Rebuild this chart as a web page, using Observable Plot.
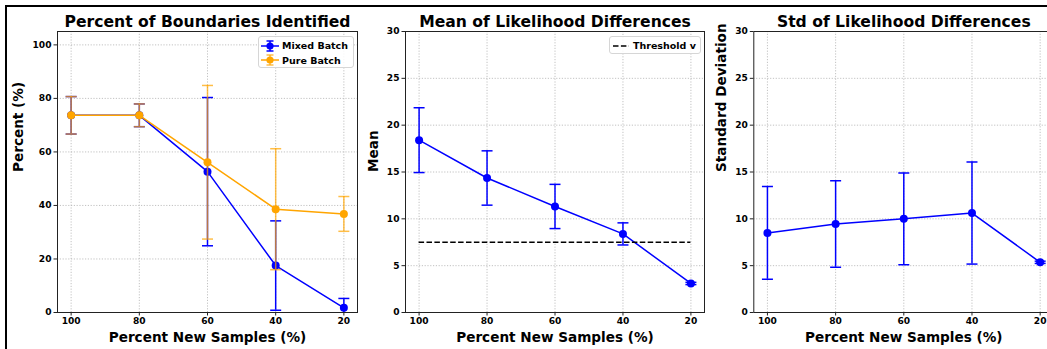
<!DOCTYPE html>
<html>
<head>
<meta charset="utf-8">
<script src="https://cdn.jsdelivr.net/npm/d3@7"></script>
<script src="https://cdn.jsdelivr.net/npm/@observablehq/plot@0.6"></script>
<style>
  html, body { margin: 0; padding: 0; background: #fff; }
  #fig { position: relative; width: 1047px; height: 349px; overflow: hidden; background: #fff;
         font-family: "DejaVu Sans", sans-serif; font-weight: bold; color: #000; }
  #frame { position: absolute; left: 5px; top: 5px; width: 1200px; height: 500px; border: 2px solid #000; box-sizing: border-box; }
  .panel { position: absolute; top: 0; }
  .panel svg { overflow: visible; max-width: none; }
  .legend { position: absolute; background: rgba(255,255,255,0.85); border: 1px solid #d6d6d6; border-radius: 3px;
            box-sizing: border-box; font-size: 9.5px; font-weight: bold; }
  .legend .row { position: absolute; left: 0; display: flex; align-items: center; height: 14px; }
  .legend svg { display: block; }
</style>
</head>
<body>
<div id="fig">
  <div id="frame"></div>
</div>
<script>
// ---------------- data ----------------
const xValues = [100, 80, 60, 40, 20];
const mixedPercent = [73.68, 73.68, 52.63, 17.54, 1.75];
const mixedPercentErr = [7.0, 4.25, 27.7, 16.7, 3.5];
const purePercent = [73.68, 73.68, 56.14, 38.6, 36.84];
const purePercentErr = [7.0, 4.25, 28.7, 22.6, 6.5];
const likelihoodMean = [18.4, 14.36, 11.32, 8.39, 3.1];
const likelihoodMeanErr = [3.46, 2.9, 2.36, 1.18, 0.12];
const likelihoodStd = [8.5, 9.45, 10.0, 10.62, 5.36];
const likelihoodStdErr = [4.95, 4.62, 4.9, 5.45, 0.12];
const thresholdV = 7.5;
const xTicks = [100, 80, 60, 40, 20];
const percentTicks = [0, 20, 40, 60, 80, 100];
const likelihoodTicks = [0, 5, 10, 15, 20, 25, 30];
const titles = ["Percent of Boundaries Identified", "Mean of Likelihood Differences", "Std of Likelihood Differences"];
const yLabels = ["Percent (%)", "Mean", "Standard Deviation"];
const xLabel = "Percent New Samples (%)";
const seriesNames = ["Mixed Batch", "Pure Batch"];
const thresholdName = "Threshold v";
const blue = "#0000ff", orange = "#ffa500";

// ---------------- helpers ----------------
const rowsOf = (vals, errs) => xValues.map((x, i) => ({x, y: vals[i], lo: vals[i] - errs[i], hi: vals[i] + errs[i]}));
const capSymbol = { draw(ctx, size) { const w = Math.sqrt(size / Math.PI); ctx.moveTo(-w, 0); ctx.lineTo(w, 0); } };

function seriesMarks(rows, color, errOpacity) {
  const e = {stroke: color, strokeWidth: 1.5, strokeOpacity: errOpacity, clip: true};
  return [
    Plot.ruleX(rows, {x: "x", y1: "lo", y2: "hi", ...e}),
    Plot.dot(rows, {x: "x", y: "lo", symbol: capSymbol, r: 5.5, fill: "none", ...e}),
    Plot.dot(rows, {x: "x", y: "hi", symbol: capSymbol, r: 5.5, fill: "none", ...e}),
    Plot.line(rows, {x: "x", y: "y", stroke: color, strokeWidth: 1.5}),
    Plot.dot(rows, {x: "x", y: "y", r: 4, fill: color, stroke: "none"})
  ];
}

function panel({left, width, marginLeft, marginRight, yDomain, yTicks, yLabel, yLabelOffset, title, marks}) {
  const grid = {stroke: "#b3b3b3", strokeOpacity: 1, strokeWidth: 0.8, strokeDasharray: "1.2,1.6"};
  const chart = Plot.plot({
    width, height: 349, marginLeft, marginRight, marginTop: 31, marginBottom: 37,
    x: {domain: [104, 16]},
    y: {domain: yDomain},
    style: {fontFamily: "DejaVu Sans", fontSize: "9.1px", fontWeight: "bold", background: "transparent", color: "#000", overflow: "visible"},
    marks: [
      Plot.gridX(xTicks, grid),
      Plot.gridY(yTicks, grid),
      Plot.axisX(xTicks, {tickSize: 3.5, tickPadding: 2, tickFormat: d => String(d), label: null, stroke: "#222"}),
      Plot.axisY(yTicks, {tickSize: 3.5, tickPadding: 2.5, tickFormat: d => String(d), label: null, stroke: "#222"}),
      ...marks,
      Plot.frame({stroke: "#222", strokeWidth: 1}),
      Plot.text([title], {frameAnchor: "top", lineAnchor: "bottom", dy: -5, fontSize: 15.6, fontWeight: "bold", fill: "#000"}),
      Plot.text([xLabel], {frameAnchor: "bottom", lineAnchor: "bottom", dy: 29.5, fontSize: 13.6, fontWeight: "bold", fill: "#000"}),
      Plot.text([yLabel], {frameAnchor: "left", lineAnchor: "top", rotate: -90, dx: -yLabelOffset, fontSize: 13.6, fontWeight: "bold", fill: "#000"})
    ]
  });
  const div = document.createElement("div");
  div.className = "panel";
  div.style.left = left + "px";
  div.style.width = width + "px";
  div.appendChild(chart);
  document.getElementById("fig").appendChild(div);
}

// ---------------- panels ----------------
panel({
  left: 0, width: 360, marginLeft: 57, marginRight: 3,
  yDomain: [0, 105], yTicks: percentTicks, yLabel: yLabels[0], yLabelOffset: 44, title: titles[0],
  marks: [...seriesMarks(rowsOf(mixedPercent, mixedPercentErr), blue, 1), ...seriesMarks(rowsOf(purePercent, purePercentErr), orange, 0.72)]
});
panel({
  left: 360, width: 350, marginLeft: 45, marginRight: 6,
  yDomain: [0, 30], yTicks: likelihoodTicks, yLabel: yLabels[1], yLabelOffset: 37, title: titles[1],
  marks: [
    ...seriesMarks(rowsOf(likelihoodMean, likelihoodMeanErr), blue, 1),
    Plot.ruleY([thresholdV], {x1: d3.max(xValues), x2: d3.min(xValues), stroke: "#000", strokeWidth: 1.5, strokeDasharray: "5.5,2.4"})
  ]
});
panel({
  left: 710, width: 350, marginLeft: 43.3, marginRight: 6.7,
  yDomain: [0, 30], yTicks: likelihoodTicks, yLabel: yLabels[2], yLabelOffset: 37.5, title: titles[2],
  marks: [...seriesMarks(rowsOf(likelihoodStd, likelihoodStdErr), blue, 1)]
});

// ---------------- legends ----------------
function errGlyph(color, op) {
  return `<svg width="22" height="14"><g stroke="${color}" stroke-width="1.5" stroke-opacity="${op}">
    <line x1="11" y1="2" x2="11" y2="12"/><line x1="7.5" y1="2" x2="14.5" y2="2"/><line x1="7.5" y1="12" x2="14.5" y2="12"/></g>
    <line x1="2" y1="7" x2="20" y2="7" stroke="${color}" stroke-width="1.5"/><circle cx="11" cy="7" r="3.6" fill="${color}"/></svg>`;
}
const fig = document.getElementById("fig");
const leg1 = document.createElement("div");
leg1.className = "legend";
Object.assign(leg1.style, {left: "258px", top: "36px", width: "96px", height: "32px"});
leg1.innerHTML = [[blue, 1], [orange, 0.72]].map(([c, op], i) =>
  `<div class="row" style="top:${1.7 + i * 14.5}px;left:0px">${errGlyph(c, op)}<span style="margin-left:1px">${seriesNames[i]}</span></div>`).join("");
fig.appendChild(leg1);

const leg2 = document.createElement("div");
leg2.className = "legend";
Object.assign(leg2.style, {left: "609px", top: "36px", width: "92px", height: "18px"});
leg2.innerHTML = `<div class="row" style="top:1.5px;left:0px"><svg width="22" height="14"><line x1="3" y1="7" x2="19" y2="7" stroke="#000" stroke-width="1.5" stroke-dasharray="5.5,2.4"/></svg><span style="margin-left:1px">${thresholdName}</span></div>`;
fig.appendChild(leg2);
</script>
</body>
</html>
